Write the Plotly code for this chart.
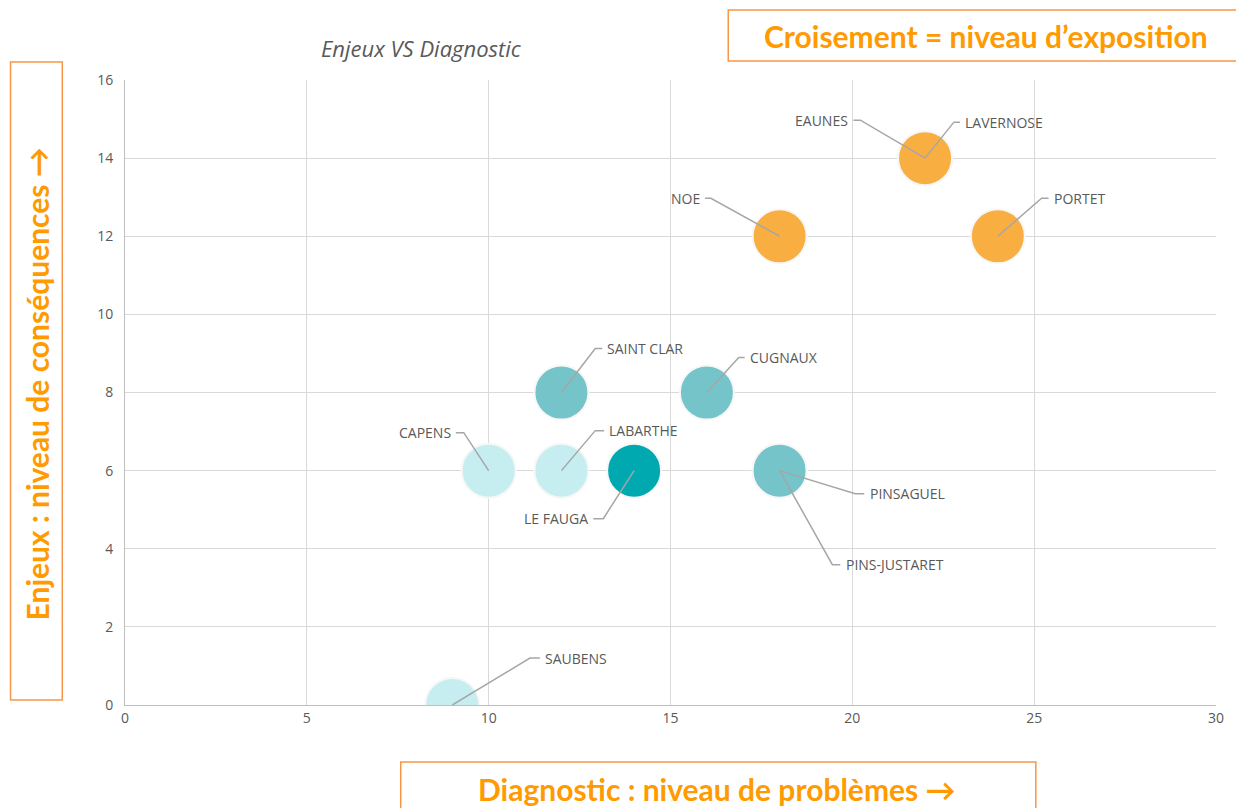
import plotly.graph_objects as go

# ---- data ----
communes = ["SAUBENS", "CAPENS", "LABARTHE", "SAINT CLAR", "LE FAUGA", "CUGNAUX",
            "PINSAGUEL", "PINS-JUSTARET", "NOE", "EAUNES", "LAVERNOSE", "PORTET"]
diagnostic = [9, 10, 12, 12, 14, 16, 18, 18, 18, 22, 22, 24]
enjeux = [0, 6, 6, 8, 6, 8, 6, 6, 12, 14, 14, 12]
exposition = ["faible", "faible", "faible", "moyen", "fort", "moyen",
              "moyen", "moyen", "très fort", "très fort", "très fort", "très fort"]
x_ticks = [0, 5, 10, 15, 20, 25, 30]
y_ticks = [0, 2, 4, 6, 8, 10, 12, 14, 16]

# ---- styles ----
colors = {"faible": "#C6EEF0", "moyen": "#74C4CA", "fort": "#00A9B0", "très fort": "#F9AE42"}
# label leader: elbow offset (px, right/down), side (+1 right, -1 left), horizontal segment length (px)
label_style = {
    "SAUBENS": (78, -47, 1, 10),
    "CAPENS": (-25, -38, -1, 8),
    "LABARTHE": (34, -40, 1, 9),
    "SAINT CLAR": (34, -44, 1, 7),
    "LE FAUGA": (-31, 48, -1, 10),
    "CUGNAUX": (32, -35, 1, 6),
    "PINSAGUEL": (76, 23, 1, 9),
    "PINS-JUSTARET": (53, 94, 1, 8),
    "NOE": (-69, -38, -1, 6),
    "EAUNES": (-65, -38, -1, 7),
    "LAVERNOSE": (29, -36, 1, 6),
    "PORTET": (44, -38, 1, 7),
}

W, H = 1236, 808
ML, MR, MT, MB = 125, 15, 80, 103
PW, PH = W - ML - MR, H - MT - MB
XMAX, YMAX = 30, 16
sx, sy = PW / XMAX, PH / YMAX

ORANGE_TXT = "#FF9A00"
ORANGE_BOX = "#F79646"
GRAY_TXT = "#595959"

fig = go.Figure()
fig.add_trace(go.Scatter(
    x=diagnostic, y=enjeux, mode="markers",
    marker=dict(size=54, color=[colors[c] for c in exposition],
                line=dict(color="#F7F7F7", width=2), opacity=1),
    hoverinfo="skip", showlegend=False,
))

lx, ly = [], []
annotations = []
for name, d, e in zip(communes, diagnostic, enjeux):
    dx, dy, side, seg = label_style[name]
    xe = d + dx / sx
    ye = e - dy / sy
    xh = xe + side * seg / sx
    lx += [d, xe, xh, None]
    ly += [e, ye, ye, None]
    annotations.append(dict(
        x=d, y=e, xref="x", yref="y", text=name, showarrow=False,
        xshift=dx + side * (seg + 3), yshift=-dy,
        xanchor="left" if side > 0 else "right", yanchor="middle",
        font=dict(family="Open Sans", size=14, color=GRAY_TXT),
    ))

fig.add_trace(go.Scatter(
    x=lx, y=ly, mode="lines", line=dict(color="#A6A6A6", width=1.5),
    hoverinfo="skip", showlegend=False,
))


def px2paper(px, py):
    # page pixels -> paper coordinates
    return (px - ML) / PW, (H - MB - py) / PH


# title
tx, ty = px2paper(423, 48)
annotations.append(dict(x=tx, y=ty, xref="paper", yref="paper", text="<i>Enjeux VS Diagnostic</i>",
                        showarrow=False, xanchor="center", yanchor="middle",
                        font=dict(family="Open Sans", size=22, color=GRAY_TXT)))

# orange boxes (text)
bx, by = px2paper(990, 36)
annotations.append(dict(x=bx, y=by, xref="paper", yref="paper",
                        text="<b>Croisement = niveau d’exposition</b>",
                        showarrow=False, xanchor="center", yanchor="middle",
                        font=dict(family="Lato", size=30, color=ORANGE_TXT)))
bx, by = px2paper(720, 789)
annotations.append(dict(x=bx, y=by, xref="paper", yref="paper",
                        text="<b>Diagnostic : niveau de problèmes →</b>",
                        showarrow=False, xanchor="center", yanchor="middle",
                        font=dict(family="Lato", size=30, color=ORANGE_TXT)))
bx, by = px2paper(37, 384)
annotations.append(dict(x=bx, y=by, xref="paper", yref="paper",
                        text="<b>Enjeux : niveau de conséquences →</b>",
                        showarrow=False, xanchor="center", yanchor="middle", textangle=-90,
                        font=dict(family="Lato", size=30, color=ORANGE_TXT)))

shapes = []
for (x0, y0, x1, y1) in [(731, 10, 1250, 61), (402, 762, 1040, 830), (10, 62, 62, 700)]:
    p0 = px2paper(x0, y1)
    p1 = px2paper(x1, y0)
    shapes.append(dict(type="rect", xref="paper", yref="paper",
                       x0=p0[0], y0=p0[1], x1=p1[0], y1=p1[1],
                       line=dict(color=ORANGE_BOX, width=1.5), fillcolor="rgba(0,0,0,0)"))

fig.update_layout(
    width=W, height=H, autosize=False,
    margin=dict(l=ML, r=MR, t=MT, b=MB),
    paper_bgcolor="white", plot_bgcolor="white",
    annotations=annotations, shapes=shapes,
    xaxis=dict(range=[0, XMAX], tickvals=x_ticks, showgrid=True, gridcolor="#D9D9D9", gridwidth=1,
               zeroline=False, showline=True, linecolor="#BFBFBF", linewidth=1,
               tickfont=dict(family="Open Sans", size=14, color=GRAY_TXT), ticks="", fixedrange=True),
    yaxis=dict(range=[0, YMAX], tickvals=y_ticks, showgrid=True, gridcolor="#D9D9D9", gridwidth=1,
               zeroline=False, showline=True, linecolor="#BFBFBF", linewidth=1,
               tickfont=dict(family="Open Sans", size=14, color=GRAY_TXT), ticks="",
               ticklabelstandoff=8, fixedrange=True),
    hovermode=False,
)

fig.write_html(
    "out.html",
    config={"displayModeBar": False},
    post_script="document.body.style.margin='0';document.body.style.overflow='hidden';",
)
